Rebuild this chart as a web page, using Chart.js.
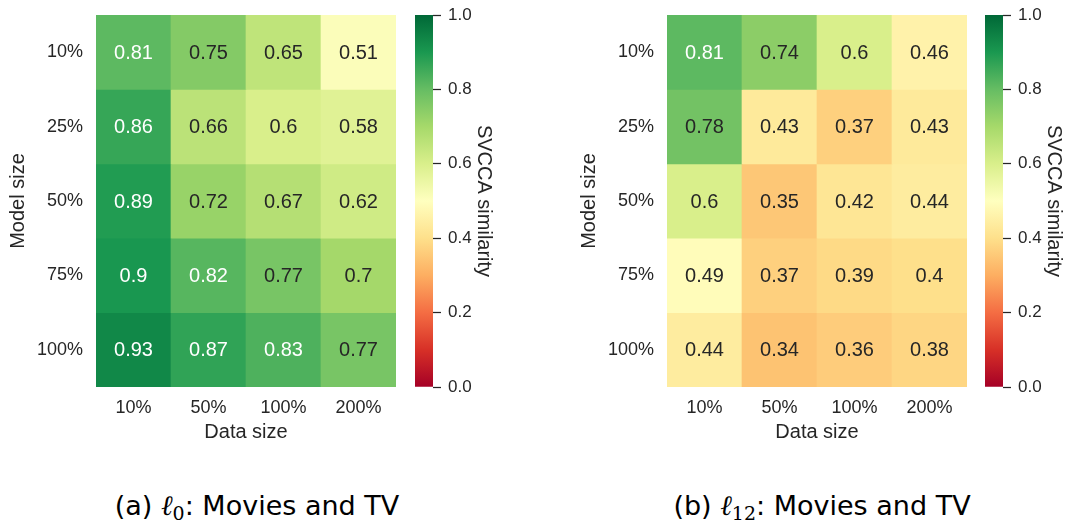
<!DOCTYPE html>
<html>
<head>
<meta charset="utf-8">
<script src="https://cdn.jsdelivr.net/npm/chart.js@4"></script>
<style>
  html, body { margin: 0; padding: 0; background: #ffffff; }
  body { width: 1077px; height: 524px; position: relative; overflow: hidden; }
  canvas { position: absolute; top: 0; }
  .cap {
    position: absolute; top: 490px; width: 420px; text-align: center;
    font-family: 'DejaVu Sans', sans-serif; font-size: 27px; color: #000;
    line-height: 32px; white-space: nowrap;
  }
  .ell { font-family: 'DejaVu Serif', serif; font-style: italic; font-size: 28px; }
  .cap sub { font-family: 'DejaVu Serif', serif; font-size: 19px; vertical-align: -5px; line-height: 0; }
</style>
</head>
<body>
<canvas id="heatA" width="400" height="450" style="left:0px"></canvas>
<canvas id="barA" width="100" height="450" style="left:400px"></canvas>
<canvas id="heatB" width="400" height="450" style="left:571px"></canvas>
<canvas id="barB" width="100" height="450" style="left:970px"></canvas>
<div class="cap" style="left:47px">(a) <span class="ell">ℓ</span><sub>0</sub>: Movies and TV</div>
<div class="cap" style="left:612px">(b) <span class="ell">ℓ</span><sub>12</sub>: Movies and TV</div>
<script>
// Axis categories
const dataSizes = ['10%', '50%', '100%', '200%'];
const modelSizes = ['10%', '25%', '50%', '75%', '100%'];
const colorbarTicks = [0, 0.2, 0.4, 0.6, 0.8, 1.0];

// SVCCA similarity, layer 0 (rows = model size, columns = data size)
const l0Model10  = [0.81, 0.75, 0.65, 0.51];
const l0Model25  = [0.86, 0.66, 0.6, 0.58];
const l0Model50  = [0.89, 0.72, 0.67, 0.62];
const l0Model75  = [0.9, 0.82, 0.77, 0.7];
const l0Model100 = [0.93, 0.87, 0.83, 0.77];

// SVCCA similarity, layer 12
const l12Model10  = [0.81, 0.74, 0.6, 0.46];
const l12Model25  = [0.78, 0.43, 0.37, 0.43];
const l12Model50  = [0.6, 0.35, 0.42, 0.44];
const l12Model75  = [0.49, 0.37, 0.39, 0.4];
const l12Model100 = [0.44, 0.34, 0.36, 0.38];

const layer0 = [l0Model10, l0Model25, l0Model50, l0Model75, l0Model100];
const layer12 = [l12Model10, l12Model25, l12Model50, l12Model75, l12Model100];

// RdYlGn colour map stops (ColorBrewer)
const rdylgn = [
  [0.6470588, 0.0, 0.1490196], [0.8431373, 0.1882353, 0.1529412],
  [0.9568627, 0.4274510, 0.2627451], [0.9921569, 0.6823529, 0.3803922],
  [0.9960784, 0.8784314, 0.5450980], [1.0, 1.0, 0.7490196],
  [0.8509804, 0.9372549, 0.5450980], [0.6509804, 0.8509804, 0.4156863],
  [0.4, 0.7411765, 0.3882353], [0.1019608, 0.5960784, 0.3137255],
  [0.0, 0.4078431, 0.2156863]
];

function cmapRGB(v) {
  // 256-entry lookup like a sampled colour map
  let idx = Math.floor(Math.min(Math.max(v, 0), 1) * 256);
  if (idx > 255) idx = 255;
  const t = idx / 255 * (rdylgn.length - 1);
  const i = Math.min(Math.floor(t), rdylgn.length - 2);
  const f = t - i;
  const a = rdylgn[i], b = rdylgn[i + 1];
  return [0, 1, 2].map(k => a[k] + (b[k] - a[k]) * f);
}
function toCss(rgb) {
  return 'rgb(' + rgb.map(c => Math.round(c * 255)).join(',') + ')';
}
function luminance(rgb) {
  const lin = rgb.map(c => c <= 0.03928 ? c / 12.92 : Math.pow((c + 0.055) / 1.055, 2.4));
  return 0.2126 * lin[0] + 0.7152 * lin[1] + 0.0722 * lin[2];
}

const FONT = "'Liberation Sans', Arial, sans-serif";
const INK = '#262626';

// Writes each cell's value in its centre
const cellLabels = {
  id: 'cellLabels',
  afterDatasetsDraw(chart) {
    const ctx = chart.ctx;
    ctx.save();
    ctx.font = '20px ' + FONT;
    ctx.textAlign = 'center';
    ctx.textBaseline = 'middle';
    chart.data.datasets.forEach((ds, di) => {
      chart.getDatasetMeta(di).data.forEach((el, ci) => {
        const v = ds.values[ci];
        const rgb = cmapRGB(v);
        ctx.fillStyle = luminance(rgb) > 0.408 ? INK : '#ffffff';
        ctx.fillText(String(v), el.x, (el.y + el.base) / 2 + 1);
      });
    });
    ctx.restore();
  }
};

function heatmap(canvasId, rows) {
  const datasets = rows.map((vals, r) => ({
    values: vals,
    data: vals.map(() => [r, r + 1]),
    backgroundColor: vals.map(v => toCss(cmapRGB(v))),
    borderWidth: 0,
    barPercentage: 1,
    categoryPercentage: 1,
    grouped: false
  }));
  new Chart(document.getElementById(canvasId), {
    type: 'bar',
    data: { labels: dataSizes, datasets },
    plugins: [cellLabels],
    options: {
      responsive: false,
      animation: false,
      events: [],
      layout: { padding: { top: 15, right: 4, left: 0, bottom: 0 } },
      plugins: { legend: { display: false }, tooltip: { enabled: false } },
      scales: {
        x: {
          type: 'category',
          grid: { display: false, drawTicks: false },
          border: { display: false },
          ticks: { color: INK, font: { family: FONT, size: 18 }, padding: 10, maxRotation: 0 },
          title: { display: true, text: 'Data size', color: INK, font: { family: FONT, size: 20 }, padding: { top: 0, bottom: 6 } },
          afterFit(s) { s.height = 63; s.paddingLeft = 0; s.paddingRight = 0; }
        },
        y: {
          type: 'linear', min: 0, max: 5, reverse: true,
          grid: { display: false, drawTicks: false },
          border: { display: false },
          afterBuildTicks(s) { s.ticks = modelSizes.map((_, i) => ({ value: i + 0.5 })); },
          ticks: {
            color: INK, font: { family: FONT, size: 18 }, padding: 13,
            callback: v => modelSizes[Math.floor(v)]
          },
          title: { display: true, text: 'Model size', color: INK, font: { family: FONT, size: 20 }, padding: { top: 6, bottom: 0 } },
          afterFit(s) { s.width = 96; s.paddingTop = 0; s.paddingBottom = 0; }
        }
      }
    }
  });
}

function colorbar(canvasId) {
  new Chart(document.getElementById(canvasId), {
    type: 'bar',
    data: {
      labels: [''],
      datasets: [{
        data: [[0, 1]],
        borderWidth: 0,
        barPercentage: 1,
        categoryPercentage: 1,
        backgroundColor(c) {
          const chart = c.chart;
          const area = chart.chartArea;
          if (!area) return 'transparent';
          const y = chart.scales.y;
          const g = chart.ctx.createLinearGradient(0, y.getPixelForValue(0), 0, y.getPixelForValue(1));
          rdylgn.forEach((s, i) => g.addColorStop(i / (rdylgn.length - 1), toCss(s)));
          return g;
        }
      }]
    },
    options: {
      responsive: false,
      animation: false,
      events: [],
      layout: { padding: { top: 15, right: 0, left: 15, bottom: 63 } },
      plugins: { legend: { display: false }, tooltip: { enabled: false } },
      scales: {
        x: { display: false },
        y: {
          type: 'linear', position: 'right', min: 0, max: 1,
          grid: { display: true, drawOnChartArea: false, drawTicks: true, tickLength: 8, tickColor: INK, tickWidth: 1.25 },
          border: { display: false },
          afterBuildTicks(s) { s.ticks = colorbarTicks.map(v => ({ value: v })); },
          ticks: { color: INK, font: { family: FONT, size: 17 }, padding: 7, callback: v => v.toFixed(1) },
          title: { display: true, text: 'SVCCA similarity', color: INK, font: { family: FONT, size: 20 }, padding: { top: 4, bottom: 0 } },
          afterFit(s) { s.width = 67; s.paddingTop = 0; s.paddingBottom = 0; }
        }
      }
    }
  });
}

heatmap('heatA', layer0);
colorbar('barA');
heatmap('heatB', layer12);
colorbar('barB');
</script>
</body>
</html>
